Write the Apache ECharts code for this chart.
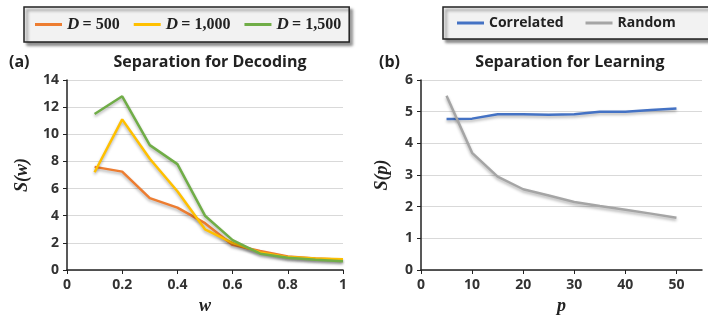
<!DOCTYPE html>
<html>
<head>
<meta charset="utf-8">
<script src="https://cdn.jsdelivr.net/npm/echarts@6/dist/echarts.min.js"></script>
<style>
  html, body { margin: 0; padding: 0; background: #fff; }
  #container { width: 708px; height: 320px; }
</style>
</head>
<body>
<div id="container"></div>
<script>
// panel (a): separation for decoding
var wValues = [0.1, 0.2, 0.3, 0.4, 0.5, 0.6, 0.7, 0.8, 0.9, 1.0];
var d500 = [7.6, 7.25, 5.3, 4.6, 3.45, 1.85, 1.4, 1.0, 0.85, 0.75];
var d1000 = [7.2, 11.1, 8.2, 5.8, 3.0, 2.0, 1.3, 0.95, 0.85, 0.8];
var d1500 = [11.5, 12.8, 9.2, 7.8, 4.0, 2.2, 1.2, 0.9, 0.75, 0.65];

// panel (b): separation for learning
var pValues = [5, 10, 15, 20, 25, 30, 35, 40, 45, 50];
var correlated = [4.77, 4.78, 4.92, 4.92, 4.9, 4.92, 5.0, 5.0, 5.05, 5.1];
var random = [5.5, 3.7, 2.95, 2.55, 2.35, 2.15, 2.02, 1.9, 1.78, 1.65];
var pTicks = [0, 10, 20, 30, 40, 50];

function pairs(xs, ys) {
    return xs.map(function (x, i) { return [x, ys[i]]; });
}

var labelFont = { fontFamily: 'Open Sans', fontWeight: 'bold', fontSize: 14, color: '#333' };
var mathFont = { fontFamily: 'Liberation Serif', fontStyle: 'italic', fontWeight: 'bold', fontSize: 18, color: '#222' };
var titleFont = { fontFamily: 'Open Sans', fontWeight: 'bold', fontSize: 16, color: '#222' };
var shadow = { shadowColor: 'rgba(0,0,0,0.3)', shadowBlur: 3, shadowOffsetY: 2 };

function line(name, data, color, xi) {
    return {
        name: name,
        type: 'line',
        xAxisIndex: xi,
        yAxisIndex: xi,
        data: data,
        showSymbol: false,
        symbol: 'none',
        lineStyle: Object.assign({ color: color, width: 2.5 }, shadow),
        itemStyle: { color: color }
    };
}

var dom = document.getElementById('container');
var myChart = echarts.init(dom, null, { renderer: 'canvas' });

var legendBox = {
    orient: 'horizontal',
    backgroundColor: '#f2f2f2',
    borderColor: '#222',
    borderWidth: 1.5,
    borderRadius: 0,
    shadowColor: 'rgba(0,0,0,0.45)',
    shadowBlur: 3,
    shadowOffsetX: 3,
    shadowOffsetY: 3,
    icon: 'rect',
    itemWidth: 27,
    itemHeight: 3,
    top: 7
};

var option = {
    animation: false,
    title: [
        { text: 'Separation for Decoding', left: 205, top: 49, textAlign: 'center', textStyle: titleFont },
        { text: 'Separation for Learning', left: 565, top: 49, textAlign: 'center', textStyle: titleFont },
        { text: '(a)', left: 4, top: 49, textStyle: titleFont },
        { text: '(b)', left: 374, top: 49, textStyle: titleFont }
    ],
    legend: [
        Object.assign({}, legendBox, {
            left: 24,
            width: 320,
            padding: [9, 8, 9, 11],
            itemGap: 14,
            data: ['D500', 'D1000', 'D1500'],
            formatter: function (n) {
                var v = { D500: '500', D1000: '1,000', D1500: '1,500' }[n];
                return '{i|D} {t|= ' + v + '}';
            },
            textStyle: {
                rich: {
                    i: { fontFamily: 'Liberation Serif', fontStyle: 'italic', fontWeight: 'bold', fontSize: 17, color: '#222' },
                    t: { fontFamily: 'Liberation Serif', fontWeight: 'bold', fontSize: 16, color: '#222' }
                }
            }
        }),
        Object.assign({}, legendBox, {
            left: 443,
            width: 250,
            padding: [9, 37, 9, 14],
            itemGap: 22,
            data: ['Correlated', 'Random'],
            textStyle: { fontFamily: 'Open Sans', fontWeight: 'bold', fontSize: 14, color: '#222' }
        })
    ],
    grid: [
        { left: 67, right: 365, top: 80, bottom: 50 },
        { left: 421, right: 6, top: 80, bottom: 50 }
    ],
    xAxis: [
        {
            type: 'value', gridIndex: 0, min: 0, max: 1, interval: 0.2,
            name: 'w', nameLocation: 'middle', nameGap: 26, nameTextStyle: mathFont,
            axisLine: { lineStyle: { color: '#222', width: 1.5 } },
            axisTick: { show: true, length: 4, lineStyle: { color: '#222' } },
            axisLabel: Object.assign({ margin: 8 }, labelFont),
            splitLine: { show: false }
        },
        {
            type: 'value', gridIndex: 1, min: 0, max: 55, interval: 10,
            name: 'p', nameLocation: 'middle', nameGap: 26, nameTextStyle: mathFont,
            axisLine: { lineStyle: { color: '#222', width: 1.5 } },
            axisTick: { show: true, length: 4, customValues: pTicks, lineStyle: { color: '#222' } },
            axisLabel: Object.assign({ margin: 8, customValues: pTicks }, labelFont),
            splitLine: { show: false }
        }
    ],
    yAxis: [
        {
            type: 'value', gridIndex: 0, min: 0, max: 14, interval: 2,
            name: 'S(w)', nameLocation: 'middle', nameGap: 36, nameRotate: 90, nameTextStyle: mathFont,
            axisLine: { show: true, lineStyle: { color: '#222', width: 1.5 } },
            axisTick: { show: true, length: 4, lineStyle: { color: '#222' } },
            axisLabel: Object.assign({ margin: 8 }, labelFont),
            splitLine: { lineStyle: { color: '#d9d9d9' } }
        },
        {
            type: 'value', gridIndex: 1, min: 0, max: 6, interval: 1,
            name: 'S(p)', nameLocation: 'middle', nameGap: 30, nameRotate: 90, nameTextStyle: mathFont,
            axisLine: { show: true, lineStyle: { color: '#222', width: 1.5 } },
            axisTick: { show: true, length: 4, lineStyle: { color: '#222' } },
            axisLabel: Object.assign({ margin: 8 }, labelFont),
            splitLine: { lineStyle: { color: '#d9d9d9' } }
        }
    ],
    series: [
        line('D500', pairs(wValues, d500), '#ED7D31', 0),
        line('D1000', pairs(wValues, d1000), '#FFC000', 0),
        line('D1500', pairs(wValues, d1500), '#70AD47', 0),
        line('Correlated', pairs(pValues, correlated), '#4472C4', 1),
        line('Random', pairs(pValues, random), '#A5A5A5', 1)
    ]
};

if (option && typeof option === 'object') {
    myChart.setOption(option, true);
}
</script>
</body>
</html>
